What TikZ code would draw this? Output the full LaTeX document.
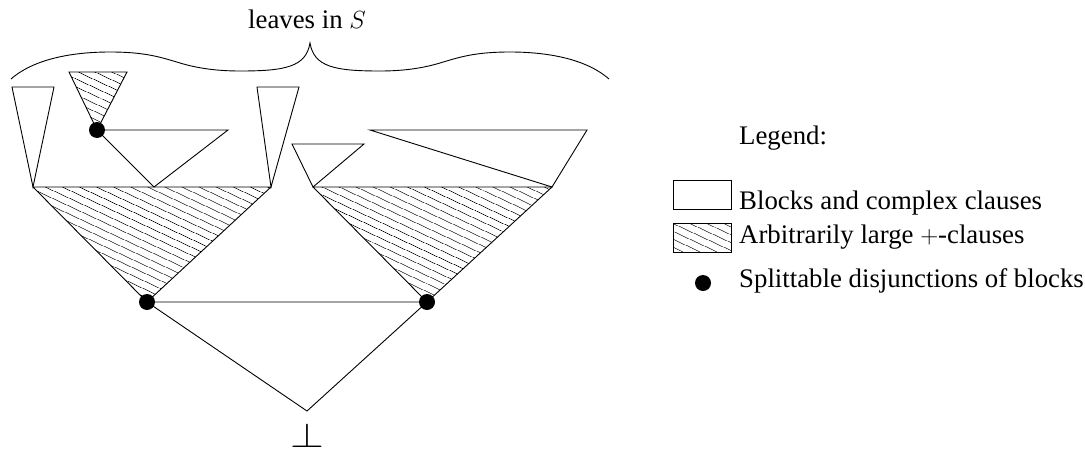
\documentclass[tikz,border=0pt]{standalone}
\usepackage{fontspec}
\setmainfont{Liberation Serif}
\usetikzlibrary{patterns.meta}
\tikzset{
 edge/.style={draw=black, line width=0.9pt, line join=miter},
 hatched/.style={edge, pattern={Lines[angle=-25,distance=6.5pt,line width=0.75pt]}},
 plain/.style={edge, fill=white},
 dot/.style={circle, fill=black, inner sep=0pt, minimum size=16pt},
 lbl/.style={anchor=base west, font=\fontsize{26.8}{30}\selectfont, inner sep=0pt},
 brace/.style={draw=black, line width=0.9pt},
}
\begin{document}
\begin{tikzpicture}[x=1pt,y=-1pt]
\useasboundingbox (0,0) rectangle (1085,450);
% coordinates
\coordinate (a1) at (12,87); \coordinate (a2) at (54,87); \coordinate (a3) at (33,187);
\coordinate (b1) at (69,72); \coordinate (b2) at (127,72); \coordinate (p1) at (97,130);
\coordinate (c2) at (228,130); \coordinate (c3) at (154,187);
\coordinate (e1) at (257,87); \coordinate (e2) at (299,87); \coordinate (e3) at (271,187);
\coordinate (p2) at (147,302);
\coordinate (f1) at (292,144); \coordinate (f2) at (364,144); \coordinate (g3) at (313,187);
\coordinate (h1) at (370,130); \coordinate (h2) at (587,130); \coordinate (h3) at (552,187);
\coordinate (p3) at (427,302);
\coordinate (bot) at (307,411);
% brace
\draw[brace] (11,79) .. controls (35,58) and (75,52) .. (110,52)
  .. controls (145,52) and (160,57) .. (180,63)
  .. controls (200,69) and (220,71) .. (240,71)
  .. controls (285,71) and (306,67) .. (310,43)
  .. controls (314,67) and (335,71) .. (380,71)
  .. controls (400,71) and (420,69) .. (440,63)
  .. controls (460,57) and (475,52) .. (510,52)
  .. controls (545,52) and (585,58) .. (609,79);
\node[anchor=base, font=\fontsize{26.8}{30}\selectfont, inner sep=0pt] (lab) at (307,28) {leaves in $S$};
% triangles
\draw[plain] (a1) -- (a2) -- (a3) -- cycle;
\draw[hatched] (b1) -- (b2) -- (p1) -- cycle;
\draw[plain] (p1) -- (c2) -- (c3) -- cycle;
\draw[plain] (e1) -- (e2) -- (e3) -- cycle;
\draw[hatched] (a3) -- (e3) -- (p2) -- cycle;
\draw[plain] (f1) -- (f2) -- (g3) -- cycle;
\draw[plain] (h1) -- (h2) -- (h3) -- cycle;
\draw[hatched] (g3) -- (h3) -- (p3) -- cycle;
\draw[edge] (p2) -- (p3) -- (bot) -- cycle;
\node[dot] (n1) at (p1) {};
\node[dot] (n2) at (p2) {};
\node[dot] (n3) at (p3) {};
\node[inner sep=0pt, anchor=south, font=\fontsize{26}{30}\selectfont] (falsum) at (307,448) {\scalebox{1.75}[1.4]{$\perp$}};
% legend
\node[lbl] (leg) at (739,144) {Legend:};
\draw[plain] (673,180) rectangle (731,209);
\draw[hatched] (673,223) rectangle (731,252);
\node[dot] (ldot) at (703,283) {};
\node[lbl] (l1) at (739,209) {Blocks and complex clauses};
\node[lbl] (l2) at (739,243) {Arbitrarily large $+$-clauses};
\node[lbl] (l3) at (739,287) {Splittable disjunctions of blocks};
\end{tikzpicture}
\end{document}
